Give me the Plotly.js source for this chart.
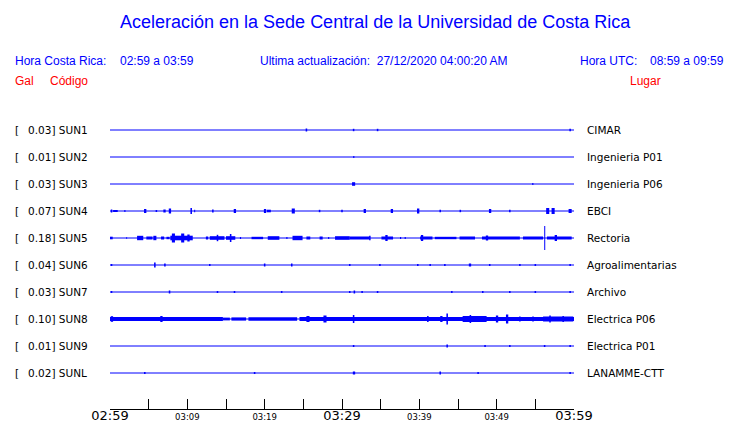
<!DOCTYPE html>
<html>
<head>
<meta charset="utf-8">
<script src="https://cdn.plot.ly/plotly-3.0.1.min.js"></script>
<style>html,body{margin:0;padding:0;background:#fff;}#chart{width:740px;height:423px;}</style>
</head>
<body>
<div id="chart"></div>
<script>
// ---- data ----
const stations = ['SUN1','SUN2','SUN3','SUN4','SUN5','SUN6','SUN7','SUN8','SUN9','SUNL'];
const peakGal  = ['0.03','0.01','0.03','0.07','0.18','0.04','0.03','0.10','0.01','0.02'];
const places   = ['CIMAR','Ingenieria P01','Ingenieria P06','EBCI','Rectoria','Agroalimentarias','Archivo','Electrica P06','Electrica P01','LANAMME-CTT'];
const tickMinutes = [0,5,10,15,20,25,30,35,40,45,50,55,60];
const tickLabels  = ['02:59','','03:09','','03:19','','03:29','','03:39','','03:49','','03:59'];
const majorLabels = ['02:59','03:29','03:59'];

// bursts per station: [start minute, end minute, half amplitude (relative units)]
const sun1Bursts = [[25.3,25.5,1.5],[31.4,31.6,1.2],[34.5,34.7,1.2],[59.4,59.6,1.2]];
const sun2Bursts = [[31.45,31.6,1]];
const sun3Bursts = [[31.3,31.7,1.8],[54.6,54.75,1]];
const sun4Bursts = [[0.1,0.3,1.5],[0.4,1.0,1],[1.85,2.0,1],[4.4,4.7,2],[5.9,6.1,1],[6.9,7.2,1.5],[7.6,7.9,2.5],[10.4,10.6,3],[10.9,11.0,1.2],[13.2,13.4,1.5],[16.0,16.3,2],[19.9,20.2,2],[20.3,20.8,1.3],[23.5,23.9,2.5],[27.0,27.2,1.2],[29.9,30.1,1.2],[32.8,33.1,2],[36.3,36.6,2],[39.7,40.0,2.5],[42.6,42.8,1.2],[45.2,45.4,1.2],[49.0,49.3,2],[51.6,51.8,1.2],[56.4,56.8,3],[57.1,57.5,3],[59.3,59.7,2]];
const sun5Bursts = [[0,0.35,1.3],[2.1,2.2,0.8],[3.5,4.3,2.2],[4.7,5.5,1.5],[5.6,6.0,2.2],[6.6,7.0,1.5],[7.3,7.7,1.2],[7.8,10.7,2.3],[8.0,8.4,4.5],[9.2,9.6,4.5],[10.0,10.3,3.5],[12.4,12.7,1.5],[12.9,14.8,1.8],[13.8,14.0,3.2],[15.0,16.2,1.8],[15.5,15.7,4],[16.8,16.95,1],[18.3,19.8,1.2],[20.4,21.9,1.8],[22.8,22.95,1],[23.6,24.9,2.2],[25.4,25.9,1.5],[27.1,27.5,1.5],[28.2,28.35,1],[29.1,31.0,1.8],[31.0,33.5,1.5],[33.5,33.7,2.2],[35.1,36.6,1.5],[35.6,35.9,3],[37.5,37.65,1],[38.1,38.25,1],[40.1,41.7,1.5],[40.2,40.5,3],[42.0,44.8,1.2],[45.2,47.2,1.5],[48.1,53.0,1.5],[48.6,48.9,2.5],[53.4,56.0,1.5],[56.15,56.28,12],[56.5,59.7,1.5],[57.5,57.8,3]];
const sun6Bursts = [[0.1,0.3,1],[5.7,5.9,2.5],[7.0,7.2,1.5],[12.8,13.0,1],[19.9,20.1,1.5],[23.4,23.6,1.5],[30.9,31.1,1],[34.8,35.0,1],[39.7,39.9,1],[41.3,41.5,1],[43.2,43.4,1],[46.4,46.7,1.5],[49.0,49.2,1],[52.9,53.1,1],[54.9,55.1,1],[59.4,59.6,1]];
const sun7Bursts = [[0.1,0.3,1],[7.6,7.8,1.5],[13.8,14.0,1],[16.0,16.2,1],[22.1,22.3,1],[30.9,31.1,1],[31.5,31.7,1.5],[32.5,32.7,1],[34.5,34.7,1],[44.1,44.3,1],[48.1,48.3,1],[51.6,51.8,1],[54.9,55.1,1],[59.4,59.6,1]];
const sun8Bursts = [[0,14.6,2.0],[0.1,0.4,2.8],[6.5,6.8,3],[14.6,15.5,1.4],[15.7,17.6,1.6],[17.9,24.2,1.7],[24.5,30,1.9],[25.4,25.8,3],[27.6,28.0,3.5],[30,60,1.9],[31.4,31.6,4],[41.0,41.2,3],[42.7,43.0,3],[43.5,43.7,5.5],[45.6,48.7,3],[46.5,46.7,4],[49.9,50.2,3.5],[51.2,51.5,4.5],[52.9,53.1,2.5],[54.6,54.8,2.5],[56.0,59.9,2.5],[56.8,57.0,3.5],[58.5,58.7,3]];
const sun9Bursts = [[31.4,31.6,1],[43.5,43.7,1.5],[48.4,48.6,1],[51.6,51.8,1],[56.1,56.3,1],[59.4,59.6,1]];
const sunLBursts = [[4.4,4.6,1],[18.6,18.8,1],[31.4,31.7,1.5],[42.6,42.8,1.5],[47.5,47.7,1],[59.4,59.6,1]];
const allBursts = [sun1Bursts,sun2Bursts,sun3Bursts,sun4Bursts,sun5Bursts,sun6Bursts,sun7Bursts,sun8Bursts,sun9Bursts,sunLBursts];

// ---- styling / geometry ----
const W = 740, H = 423;
const M = {l:110, r:166, t:117, b:14};
const PW = W - M.l - M.r, PH = H - M.t - M.b;
const ROW_PX = 27;
const yTop = -(130 - M.t) / ROW_PX;
const yBot = yTop + PH / ROW_PX;
const AMP_SCALE = 1 / ROW_PX;   // relative amplitude unit -> row units
const BLUE = '#0000ff', RED = '#ff0000';
const TXT_PAD = 2;              // annotation inner padding
const px2x = p => (p - TXT_PAD - M.l) / PW;
const py2y = p => 1 - (p - M.t) / PH;

const traces = [];
stations.forEach((s, i) => {
  traces.push({type:'scatter', mode:'lines', x:[0,60], y:[i,i],
    line:{color:BLUE, width:1}, hoverinfo:'skip', showlegend:false});
  const b = allBursts[i];
  traces.push({type:'bar',
    x: b.map(d => (d[0]+d[1])/2),
    width: b.map(d => Math.max(d[1]-d[0], 0.13)),
    base: b.map(d => i - d[2]*AMP_SCALE),
    y: b.map(d => 2*d[2]*AMP_SCALE),
    marker:{color:BLUE, line:{width:0}}, hoverinfo:'skip', showlegend:false});
});

const ann = [];
const hdrFont = {family:'Liberation Sans, Arial, sans-serif', size:12, color:BLUE};
const redFont = {family:'Liberation Sans, Arial, sans-serif', size:12, color:RED};
function addText(text, xp, yp, font, xanchor) {
  ann.push({text, x:(xanchor === 'center' ? (xp - M.l) / PW : px2x(xp)), y:py2y(yp), xref:'paper', yref:'paper',
    xanchor:xanchor||'left', yanchor:'middle', showarrow:false, font});
}
addText('Aceleración en la Sede Central de la Universidad de Costa Rica', 375, 22,
  {family:'Liberation Sans, Arial, sans-serif', size:18, color:BLUE}, 'center');
addText('Hora Costa Rica:', 15, 61, hdrFont);
addText('02:59 a 03:59', 120, 61, hdrFont);
addText('Ultima actualización:  27/12/2020 04:00:20 AM', 260, 61, hdrFont);
addText('Hora UTC:', 580, 61, hdrFont);
addText('08:59 a 09:59', 650, 61, hdrFont);
addText('Gal', 15, 81, redFont);
addText('Código', 50, 81, redFont);
addText('Lugar', 630, 81, redFont);

const lblFont = {family:'DejaVu Sans, sans-serif', size:10.5, color:'#000'};
stations.forEach((s, i) => {
  ann.push({text:'[', x:px2x(15), y:i, xref:'paper', yref:'y', xanchor:'left', yanchor:'middle', showarrow:false, font:lblFont});
  ann.push({text:peakGal[i] + '] ' + s, x:px2x(27.5), y:i, xref:'paper', yref:'y', xanchor:'left', yanchor:'middle', showarrow:false, font:lblFont});
  ann.push({text:places[i], x:px2x(587), y:i, xref:'paper', yref:'y', xanchor:'left', yanchor:'middle', showarrow:false, font:lblFont});
});

const tickText = tickLabels.map(t => majorLabels.includes(t) ? '<span style="font-size:13px">' + t + '</span>' : t);

const layout = {
  width: W, height: H, margin: M,
  paper_bgcolor:'#fff', plot_bgcolor:'#fff',
  barmode:'overlay', showlegend:false,
  xaxis:{range:[0,60], tickmode:'array', tickvals:tickMinutes, ticktext:tickText,
    ticks:'inside', ticklen:10, tickwidth:1, tickcolor:'#000', ticklabelstandoff:0,
    showline:true, linecolor:'#000', linewidth:1, showgrid:false, zeroline:false,
    tickfont:{family:'DejaVu Sans, sans-serif', size:8.5, color:'#000'}, fixedrange:true},
  yaxis:{range:[yBot, yTop], visible:false, showgrid:false, zeroline:false, fixedrange:true},
  annotations: ann
};
Plotly.newPlot('chart', traces, layout, {displayModeBar:false, staticPlot:true});
</script>
</body>
</html>
